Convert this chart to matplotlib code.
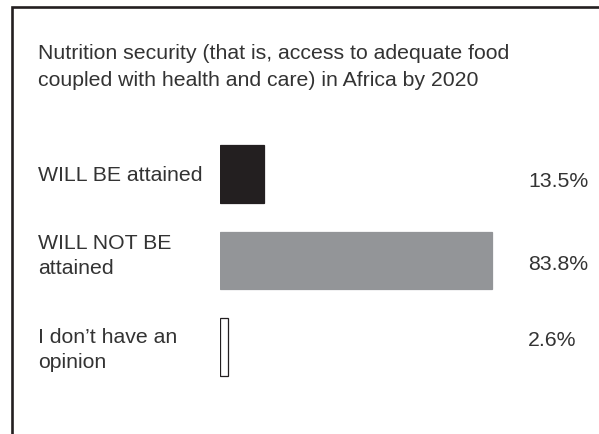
import matplotlib
matplotlib.use("Agg")
import matplotlib.pyplot as plt
from matplotlib.patches import Rectangle
from matplotlib.transforms import blended_transform_factory, offset_copy

title = "Nutrition security (that is, access to adequate food\ncoupled with health and care) in Africa by 2020"
categories = ["WILL BE attained", "WILL NOT BE\nattained", "I don\u2019t have an\nopinion"]
values = [13.5, 83.8, 2.6]
value_labels = ["13.5%", "83.8%", "2.6%"]

W, H = 599, 434
fig = plt.figure(figsize=(W / 100, H / 100), dpi=100)
plt.rcParams['font.family'] = ['Liberation Sans', 'DejaVu Sans']
txt = '#333333'
fs = 15.3

# frame
fig.add_artist(Rectangle((12 / W, -0.2), 1.2, 1.2 - 6.5 / H, transform=fig.transFigure,
                         fill=False, edgecolor='#231f20', linewidth=1.9, clip_on=False))

fig.text(38 / W, 1 - 44 / H, title, ha='left', va='top', fontsize=fs, color=txt,
         linespacing=1.55)

ax = fig.add_axes([220 / W, 1 - 390 / H, (W - 220) / W, 259 / H])
ax.set_xlim(0, (W - 220) / 3.245)
ax.set_ylim(2.5, -0.5)
ax.axis('off')

facecolors = ['#231f20', '#939598', 'white']
edgecolors = ['#231f20', '#939598', '#231f20']
ypos = list(range(len(categories)))
ax.barh(ypos, values, height=0.67, color=facecolors, edgecolor=edgecolors, linewidth=0.9)

# small vertical nudges (in points) for text placement
cat_nudge = [-1, 3, -2.5]
val_nudge = [-5.5, -3, 4.5]

tr = blended_transform_factory(fig.transFigure, ax.transData)
for y, cat, lab, cn, vn in zip(ypos, categories, value_labels, cat_nudge, val_nudge):
    fig.text(38 / W, y, cat, transform=offset_copy(tr, fig=fig, y=cn, units='points'),
             ha='left', va='center', fontsize=fs, color=txt, linespacing=1.42)
    fig.text(528 / W, y, lab, transform=offset_copy(tr, fig=fig, y=vn, units='points'),
             ha='left', va='center', fontsize=fs, color=txt)

fig.savefig('out.png', dpi=100)
